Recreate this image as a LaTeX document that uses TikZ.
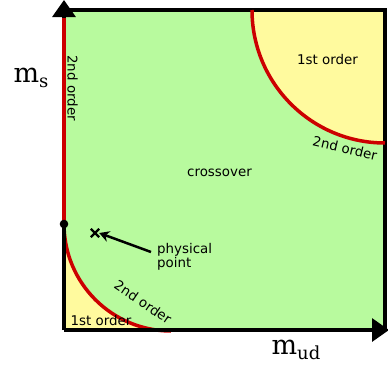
\documentclass[tikz,border=0pt]{standalone}
\usepackage{fontspec}
\setmainfont{DejaVu Sans}
\newfontfamily\axfont{DejaVu Serif}
\usetikzlibrary{arrows.meta}
\definecolor{cgreen}{HTML}{B8FA9E}
\definecolor{cyellow}{HTML}{FFFA9E}
\definecolor{cred}{HTML}{CC0000}
\tikzset{
  lbl/.style={font=\fontsize{13.4}{15}\selectfont, inner sep=0pt},
  axlbl/.style={font=\axfont\fontsize{27}{29}\selectfont, inner sep=0pt},
  border/.style={line width=3.2pt, black},
  redline/.style={line width=3.5pt, cred},
  axis/.style={line width=3.2pt, black, -{Triangle[width=23pt,length=17pt]}},
}
\begin{document}
\begin{tikzpicture}[x=1pt,y=-1pt]
\useasboundingbox (0,0) rectangle (388,372);
% regions
\fill[cgreen] (64,10) rectangle (385,330);
\fill[cyellow] (252,10) arc[start angle=180, end angle=90, radius=133] -- (385,10) -- cycle;
\fill[cyellow] (64,224) arc[start angle=180, end angle=90, radius=107] -- (64,330) -- cycle;
% border
\draw[border] (64,10) -- (385,10) -- (385,330);
% red transition lines
\draw[redline] (252,10) arc[start angle=180, end angle=90, radius=133];
\draw[redline] (64,224) arc[start angle=180, end angle=90, radius=107];
% axes
\coordinate (o) at (64,330);
\coordinate (ytip) at (64,0);
\coordinate (xtip) at (389,330);
\draw[axis] (o) -- (ytip);
\draw[axis] (o) -- (xtip);
\coordinate (rs) at (64,224);
\coordinate (re) at (64,18);
\draw[redline] (rs) -- (re);
\fill[black] (rs) circle (4.3pt);
% labels
\node[axlbl] (ms) at (31,78) {m\raisebox{-5pt}{\fontsize{18}{18}\selectfont s}};
\node[axlbl] (mud) at (296,350) {m\raisebox{-5pt}{\fontsize{18}{18}\selectfont ud}};
\node[lbl, rotate=-90] (so1) at (72.5,88) {2nd order};
\node[lbl] (fo1) at (327.5,60) {1st order};
\node[lbl, rotate=-13] (so2) at (345,148) {2nd order};
\node[lbl] (cross) at (219.5,173) {crossover};
\node[lbl, rotate=-34] (so3) at (143,302) {2nd order};
\node[lbl] (fo2) at (101,320) {1st order};
\node[lbl, align=left, anchor=west] (pp) at (157,257) {physical\\[-1pt]point};
% physical point marker
\node[inner sep=0pt, minimum size=8pt] (xm) at (95,233) {};
\draw[line width=2.2pt, black] (xm.north west) -- (xm.south east) (xm.north east) -- (xm.south west);
\coordinate (tail) at (151,252);
\draw[line width=2.5pt, black, -{Stealth[width=11pt,length=10pt]}] (tail) -- (xm.east);
\end{tikzpicture}
\end{document}
